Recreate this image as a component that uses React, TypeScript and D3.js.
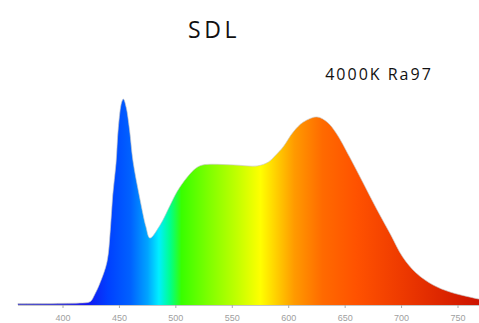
import { useMemo } from "react";
import * as d3 from "d3";

// spectrum: wavelength (nm) vs relative intensity (%)
const wavelengths = [
  360, 380, 400, 415, 424, 428, 433, 439, 442, 444, 447, 449, 452, 453.5, 456, 459, 462, 468, 473.5, 477,
  486, 495, 501, 510, 518, 524, 551, 572, 582, 588, 595, 604, 613, 625, 634, 642, 654, 666, 678, 690,
  701, 713, 728, 743, 760, 770,
];
const intensity = [
  0.7, 0.7, 0.8, 1.0, 1.6, 5, 11, 21, 37, 53, 69, 86, 98.5, 100, 96, 85, 70, 52, 38, 32.5,
  38.8, 48.5, 55, 62, 66.5, 68, 68, 67.5, 69.4, 72.5, 76.7, 84, 88.8, 91.3, 88.8, 83.5, 71.8, 59.2, 46.5, 34.5,
  23.3, 15.5, 9.7, 6.3, 3.9, 2.7,
];

const tickValues = [400, 450, 500, 550, 600, 650, 700, 750];

// colour of the fill along the wavelength axis
const stopNm = [360, 400, 420, 440, 460, 475, 485, 495, 505, 530, 555, 575, 590, 605, 630, 660, 700, 770];
const stopColor = [
  "#5050c8", "#3a3ad8", "#1414f0", "#0040ff", "#0062ff", "#00a4ff", "#00efff", "#00ff8c", "#38ff00",
  "#80ff00", "#c4ff00", "#ffff00", "#ffcc00", "#ff9a00", "#ff6a00", "#ff5200", "#ee3a00", "#cc1200",
];

const title = "SDL";
const subtitle = "4000K Ra97";

export default function App() {
  const width = 479;
  const height = 323;
  const baseY = 305;

  const { x, y, area, outline } = useMemo(() => {
    const x = d3.scaleLinear().domain([400, 750]).range([63, 458]);
    const y = d3.scaleLinear().domain([0, 100]).range([baseY, 99]);
    const pts = wavelengths.map((w, i) => [w, intensity[i]] as [number, number]);
    const curve = d3.curveCatmullRom.alpha(0.5);
    const area = d3
      .area<[number, number]>()
      .x((d) => x(d[0]))
      .y0(y(0))
      .y1((d) => y(d[1]))
      .curve(curve)(pts) ?? "";
    const outline = d3
      .line<[number, number]>()
      .x((d) => x(d[0]))
      .y((d) => y(d[1]))
      .curve(curve)(pts) ?? "";
    return { x, y, area, outline };
  }, []);

  const gx1 = x(wavelengths[0]);
  const gx2 = x(wavelengths[wavelengths.length - 1]);

  return (
    <svg
      width={width}
      height={height}
      style={{ position: "absolute", left: 0, top: 0, background: "#fff" }}
    >
      <defs>
        <linearGradient id="spec" gradientUnits="userSpaceOnUse" x1={gx1} x2={gx2} y1={0} y2={0}>
          {stopNm.map((nm, i) => (
            <stop key={nm} offset={(x(nm) - gx1) / (gx2 - gx1)} stopColor={stopColor[i]} />
          ))}
        </linearGradient>
      </defs>

      <text
        x={214}
        y={38}
        textAnchor="middle"
        fontFamily="'Open Sans', sans-serif"
        fontSize={23}
        letterSpacing={3.5}
        fill="#111"
      >
        {title}
      </text>
      <text
        x={379}
        y={80}
        textAnchor="middle"
        fontFamily="'Open Sans', sans-serif"
        fontSize={16}
        letterSpacing={2}
        fill="#111"
      >
        {subtitle}
      </text>

      <path d={area} fill="url(#spec)" />
      <path d={outline} fill="none" stroke="#c8c8c8" strokeWidth={0.8} strokeOpacity={0.8} />

      <line x1={18} x2={width} y1={y(0) + 0.5} y2={y(0) + 0.5} stroke="#c6c6c6" strokeWidth={1} />
      {tickValues.map((t) => (
        <g key={t} transform={`translate(${x(t)},0)`}>
          <line y1={y(0)} y2={y(0) + 3} stroke="#aaa" strokeWidth={1} />
          <text
            y={y(0) + 16}
            textAnchor="middle"
            fontFamily="'Liberation Sans', sans-serif"
            fontSize={9}
            fill="#a0a0a0"
          >
            {t}
          </text>
        </g>
      ))}
    </svg>
  );
}
